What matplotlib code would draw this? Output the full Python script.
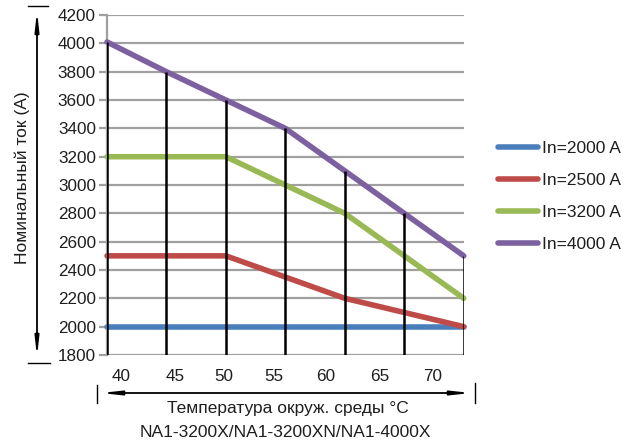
import matplotlib.pyplot as plt
from matplotlib.lines import Line2D

plt.rcParams['font.family'] = ['Liberation Sans', 'DejaVu Sans']

# Data
temps = [40, 45, 50, 55, 60, 65, 70]
in_2000 = [2000, 2000, 2000, 2000, 2000, 2000, 2000]
in_2500 = [2500, 2500, 2500, 2350, 2200, 2100, 2000]
in_3200 = [3200, 3200, 3200, 3000, 2800, 2500, 2200]
in_4000 = [4010, 3800, 3600, 3400, 3100, 2800, 2500]

series = [("In=2000 A", in_2000, "#4a7ebb"),
          ("In=2500 A", in_2500, "#be4b48"),
          ("In=3200 A", in_3200, "#98b954"),
          ("In=4000 A", in_4000, "#7d60a0")]

yticks = [1800, 2000, 2200, 2400, 2600, 2800, 3000, 3200, 3400, 3600, 3800, 4000, 4200]
xtick_labels = ["40", "45", "50", "55", "60", "65", "70"]
# label positions in the original are not aligned with the vertical lines
xtick_pos = [41.2, 45.7, 49.8, 54.0, 58.4, 62.9, 67.4]

txt = "#1e1e1e"
fs = 12.5

fig = plt.figure(figsize=(6.37, 4.44), dpi=100)
ax = fig.add_axes([0.168, 0.2005, 0.560, 0.7655])

ax.set_xlim(40, 70)
ax.set_ylim(1800, 4200)
ax.set_yticks(yticks)
ax.set_xticks(xtick_pos)
ax.set_xticklabels(xtick_labels)
ax.yaxis.grid(True, color="#a0a0a0", linewidth=1.6, zorder=0)
ax.set_axisbelow(True)
for s in ["top", "right", "bottom"]:
    ax.spines[s].set_visible(False)
ax.spines["left"].set_color("#a0a0a0")
ax.spines["left"].set_linewidth(1.6)
ax.tick_params(axis="y", length=6, width=1.6, color="#a0a0a0", labelsize=12.3, pad=2)
ax.tick_params(axis="x", length=0, labelsize=12.3, pad=10)
for t in ax.get_yticklabels() + ax.get_xticklabels():
    t.set_color(txt)

for label, vals, col in series:
    ax.plot(temps, vals, color=col, linewidth=4, solid_capstyle="round", label=label, zorder=3, clip_on=False)

# black vertical lines from the bottom up to the top curve
ax.vlines(temps, 1800, in_4000, color="black", linewidth=1.8, zorder=4)

leg = ax.legend(loc="center left", bbox_to_anchor=(1.052, 0.466), frameon=False,
                fontsize=fs, handlelength=2.3, handletextpad=0.25, labelspacing=0.98)
for t in leg.get_texts():
    t.set_color(txt)

# y axis arrow with caps
fig.add_artist(Line2D([28 / 637, 48 / 637], [1 - 6 / 444, 1 - 6 / 444], color="black", lw=1))
fig.add_artist(Line2D([28 / 637, 50 / 637], [1 - 363 / 444, 1 - 363 / 444], color="black", lw=1))
ax.annotate("", xy=(37 / 637, 1 - 8 / 444), xytext=(37 / 637, 1 - 360 / 444),
            xycoords="figure fraction", textcoords="figure fraction",
            arrowprops=dict(arrowstyle="<|-|>,head_length=1.1,head_width=0.12", color="black", lw=1.3))
fig.text(22 / 637, 1 - 178 / 444, "Номинальный ток (A)", rotation=90, ha="center", va="center",
         fontsize=fs, color=txt)

# x axis arrow with caps
fig.add_artist(Line2D([97 / 637, 97 / 637], [1 - 385 / 444, 1 - 403 / 444], color="black", lw=1))
fig.add_artist(Line2D([475 / 637, 475 / 637], [1 - 383 / 444, 1 - 403 / 444], color="black", lw=1))
ax.annotate("", xy=(474 / 637, 1 - 393 / 444), xytext=(98 / 637, 1 - 393 / 444),
            xycoords="figure fraction", textcoords="figure fraction",
            arrowprops=dict(arrowstyle="<|-|>,head_length=1.1,head_width=0.12", color="black", lw=1.3))
fig.text(288 / 637, 1 - 408 / 444, "Температура окруж. среды °C", ha="center", va="center",
         fontsize=fs, color=txt)
fig.text(285 / 637, 1 - 432 / 444, "NA1-3200X/NA1-3200XN/NA1-4000X", ha="center", va="center",
         fontsize=fs, color=txt)

fig.savefig("out.png", dpi=100)
